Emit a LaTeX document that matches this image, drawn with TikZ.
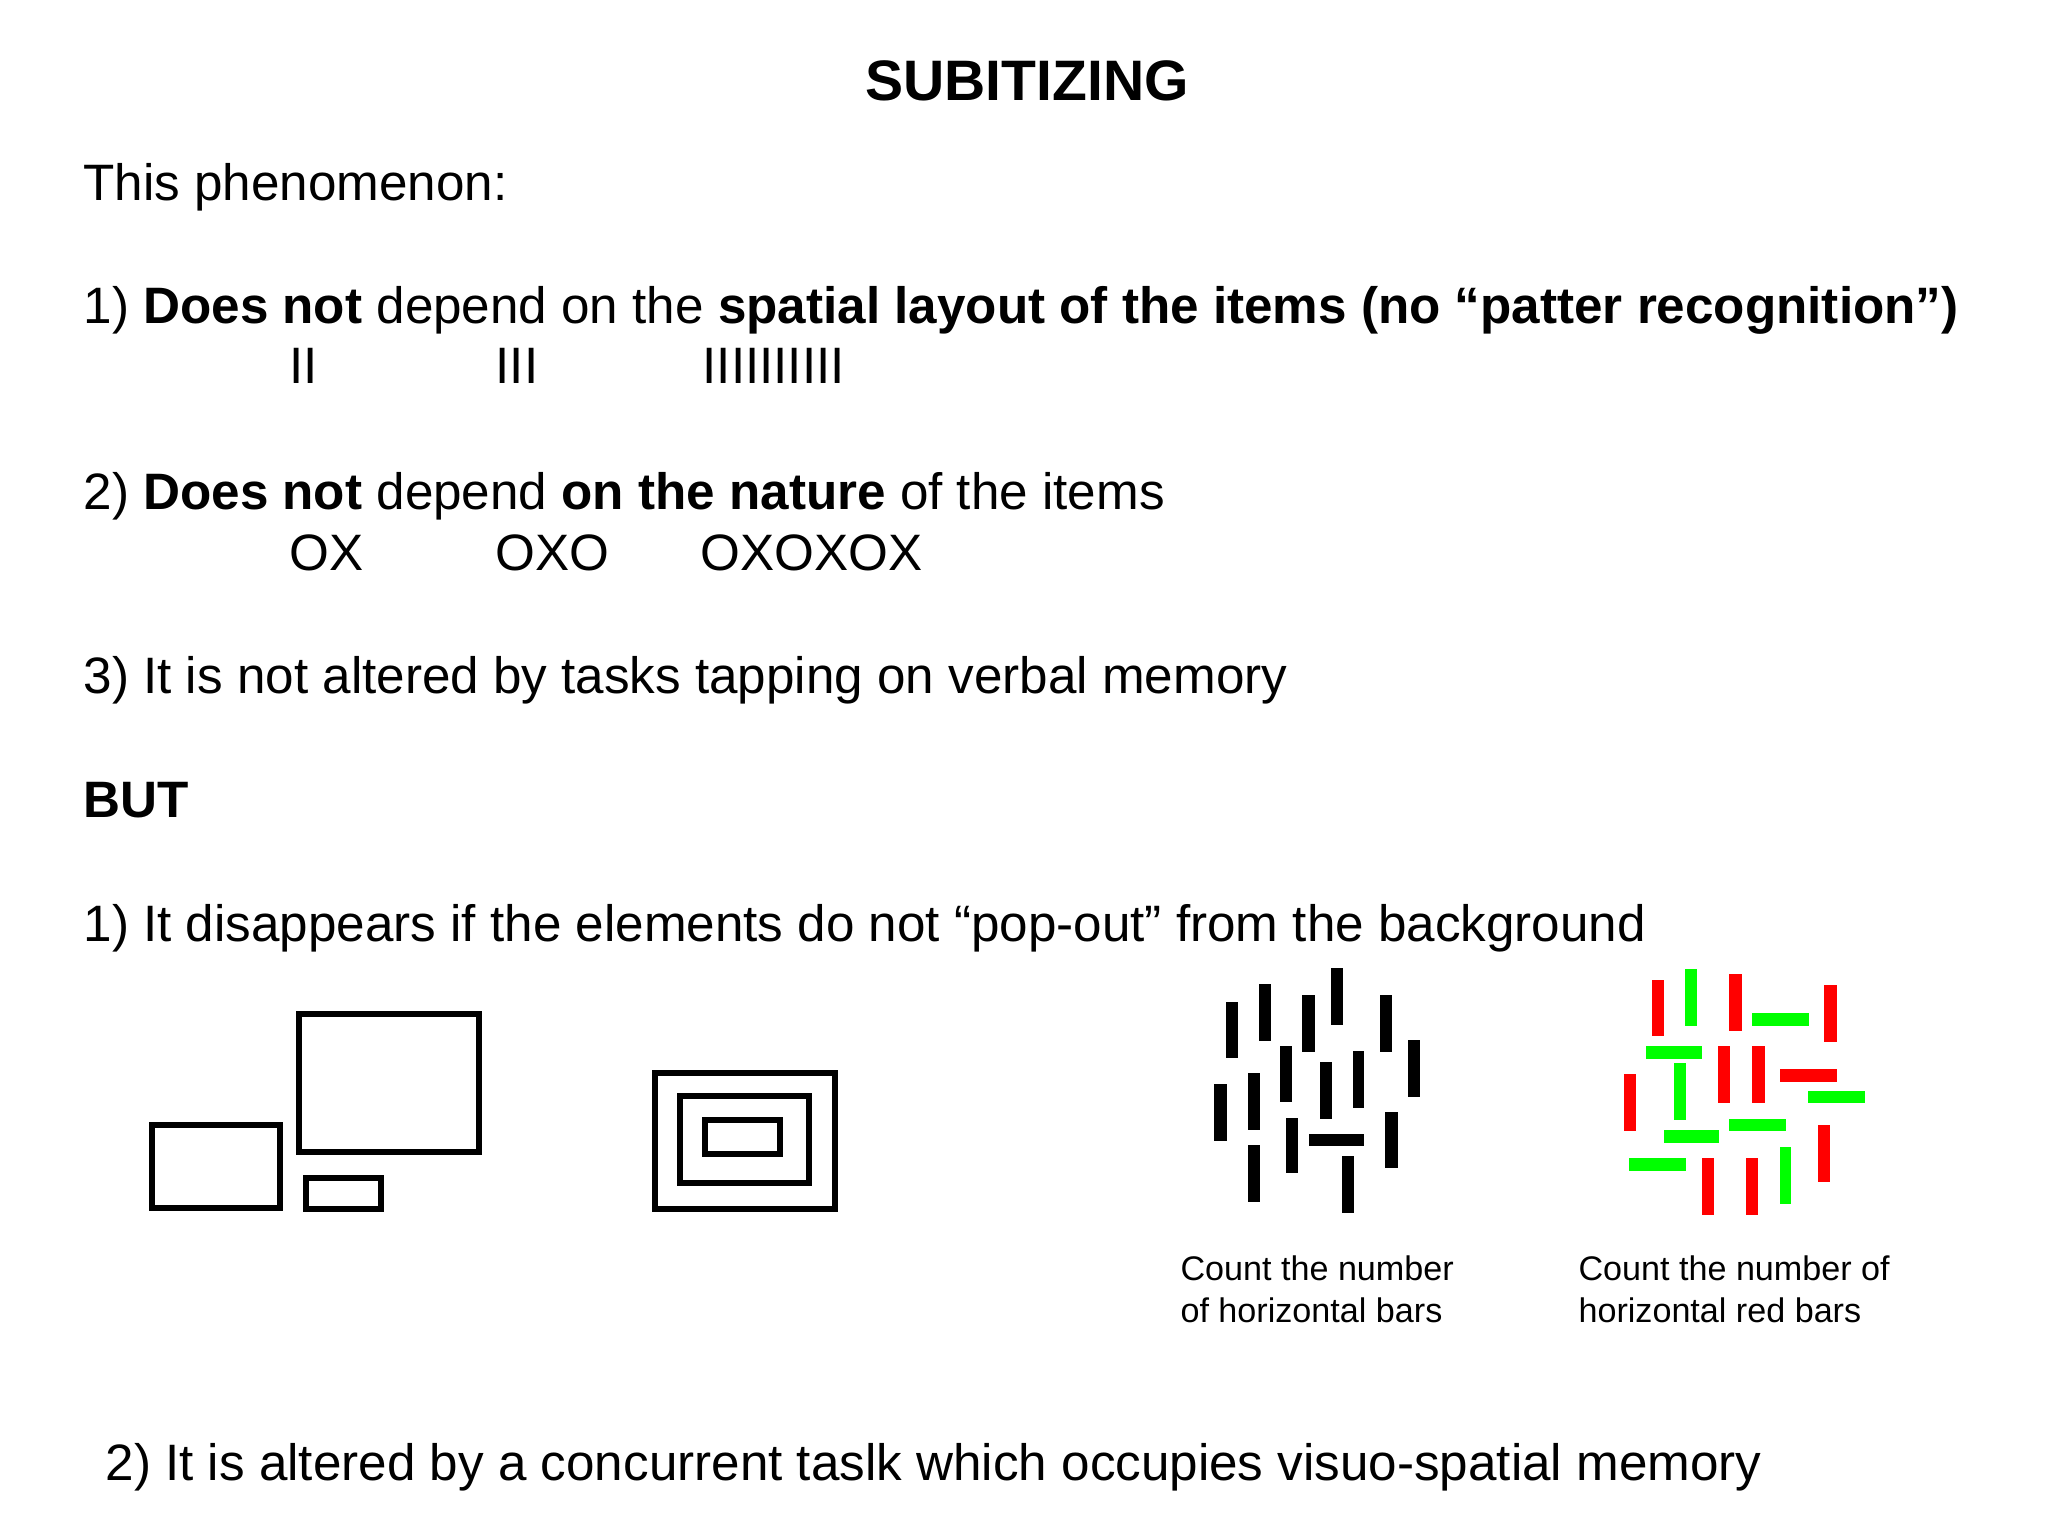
\documentclass[tikz,border=0pt]{standalone}
\usepackage{fontspec}
\setmainfont{Liberation Sans}
\definecolor{rd}{RGB}{255,0,0}
\definecolor{gr}{RGB}{0,255,0}
\begin{document}
\begin{tikzpicture}[x=0.375pt,y=-0.375pt,
  txt/.style={anchor=base west,inner sep=0pt,font=\fontsize{19.2}{23}\selectfont},
  captxt/.style={anchor=base west,inner sep=0pt,font=\fontsize{12.8}{16}\selectfont},
  box/.style={draw,line width=2pt}]
\useasboundingbox (0,0) rectangle (2048,1536);
\node[anchor=base,inner sep=0pt,font=\fontsize{21.4}{25}\selectfont\bfseries] (title) at (1027,100) {SUBITIZING};
\node[txt] (t0) at (83,200) {This phenomenon:};
\node[txt] (t1) at (83,323) {1) \textbf{Does not} depend on the \textbf{spatial layout of the items (no “patter recognition”)}};
\node[txt] (i2) at (289,383) {II};
\node[txt] (i3) at (495,383) {III};
\node[txt] (i10) at (702,383) {IIIIIIIIII};
\node[txt] (t2) at (83,509) {2) \textbf{Does not} depend \textbf{on the nature} of the items};
\node[txt] (o1) at (289,570) {OX};
\node[txt] (o2) at (495,570) {OXO};
\node[txt] (o3) at (700,570) {OXOXOX};
\node[txt] (t3) at (83,693) {3) It is not altered by tasks tapping on verbal memory};
\node[txt,font=\fontsize{19.2}{23}\selectfont\bfseries] (but) at (83,817) {BUT};
\node[txt] (t4) at (83,941) {1) It disappears if the elements do not “pop-out” from the background};
\node[captxt] (c1) at (1180,1280) {Count the number};
\node[captxt] (c2) at (1180,1322) {of horizontal bars};
\node[captxt] (c3) at (1578,1280) {Count the number of};
\node[captxt] (c4) at (1578,1322) {horizontal red bars};
\node[txt] (t5) at (105,1480) {2) It is altered by a concurrent taslk which occupies visuo-spatial memory};
% rectangles
\draw[box] (299,1014) rectangle (479,1152);
\draw[box] (152,1125) rectangle (280,1208);
\draw[box] (306,1178) rectangle (381,1209);
\draw[box] (655,1073) rectangle (835,1209);
\draw[box] (680,1096) rectangle (809,1183);
\draw[box] (705,1120) rectangle (780,1154);
% black bars
\foreach \a/\b/\c/\d in {1226/1002/1238/1058, 1259/984/1271/1041, 1302/995/1315/1052, 1331/968/1343/1025,
 1380/995/1392/1052, 1408/1040/1420/1097, 1280/1046/1292/1102, 1320/1062/1332/1119, 1353/1051/1364/1108,
 1214/1084/1227/1141, 1248/1073/1260/1130, 1286/1118/1298/1173, 1309/1134/1364/1146, 1385/1112/1398/1168,
 1248/1145/1260/1202, 1342/1156/1354/1213}
  \fill[black] (\a,\b) rectangle (\c,\d);
% red bars
\foreach \a/\b/\c/\d in {1652/980/1664/1036, 1729/974/1742/1031, 1824/985/1837/1042, 1718/1046/1730/1103,
 1752/1046/1765/1103, 1780/1069/1837/1082, 1624/1074/1636/1131, 1818/1125/1830/1182, 1702/1158/1714/1215,
 1746/1158/1758/1215}
  \fill[rd] (\a,\b) rectangle (\c,\d);
% green bars
\foreach \a/\b/\c/\d in {1685/969/1697/1026, 1752/1013/1809/1026, 1646/1046/1702/1059, 1674/1063/1686/1120,
 1808/1091/1865/1103, 1729/1119/1786/1131, 1664/1130/1719/1143, 1629/1158/1686/1171, 1780/1147/1791/1204}
  \fill[gr] (\a,\b) rectangle (\c,\d);
\end{tikzpicture}
\end{document}
